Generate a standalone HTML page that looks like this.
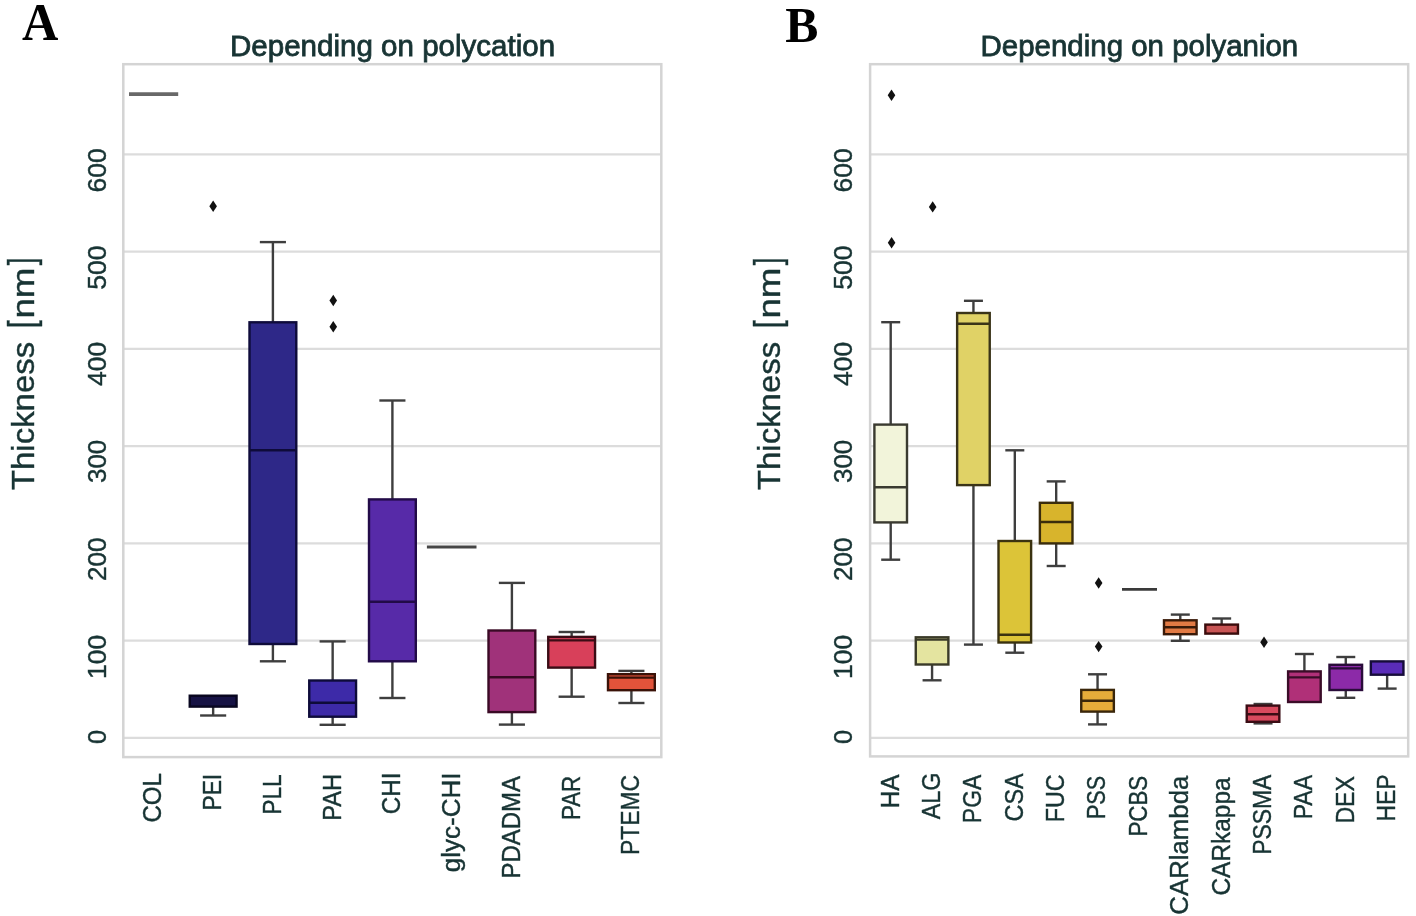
<!DOCTYPE html>
<html><head><meta charset="utf-8"><style>
html,body{margin:0;padding:0;background:#fff;}
svg{display:block;}
#w{will-change:transform;width:1416px;height:916px;}
</style></head><body>
<div id="w"><svg width="1416" height="916" viewBox="0 0 1416 916">
<rect width="1416" height="916" fill="#fff"/>
<line x1="123.3" y1="737.80" x2="661.3" y2="737.80" stroke="#dcdcdc" stroke-width="2.2"/>
<line x1="123.3" y1="640.55" x2="661.3" y2="640.55" stroke="#dcdcdc" stroke-width="2.2"/>
<line x1="123.3" y1="543.30" x2="661.3" y2="543.30" stroke="#dcdcdc" stroke-width="2.2"/>
<line x1="123.3" y1="446.05" x2="661.3" y2="446.05" stroke="#dcdcdc" stroke-width="2.2"/>
<line x1="123.3" y1="348.80" x2="661.3" y2="348.80" stroke="#dcdcdc" stroke-width="2.2"/>
<line x1="123.3" y1="251.55" x2="661.3" y2="251.55" stroke="#dcdcdc" stroke-width="2.2"/>
<line x1="123.3" y1="154.30" x2="661.3" y2="154.30" stroke="#dcdcdc" stroke-width="2.2"/>
<rect x="123.3" y="64.2" width="538.0" height="692.9" fill="none" stroke="#d4d4d4" stroke-width="2.5"/>
<line x1="129.00" y1="94.10" x2="178.20" y2="94.10" stroke="#686868" stroke-width="3.6"/>
<line x1="213.15" y1="706.60" x2="213.15" y2="715.50" stroke="#3e3e3e" stroke-width="2.4"/>
<line x1="200.10" y1="715.50" x2="226.20" y2="715.50" stroke="#3e3e3e" stroke-width="2.4"/>
<rect x="189.75" y="695.70" width="46.80" height="10.90" fill="#161244" stroke="#08061f" stroke-width="2.4"/>
<path d="M213.15,200.60L216.95,206.30L213.15,212.00L209.35,206.30Z" fill="#111"/>
<line x1="272.90" y1="322.30" x2="272.90" y2="242.10" stroke="#3e3e3e" stroke-width="2.4"/>
<line x1="259.85" y1="242.10" x2="285.95" y2="242.10" stroke="#3e3e3e" stroke-width="2.4"/>
<line x1="272.90" y1="644.00" x2="272.90" y2="661.30" stroke="#3e3e3e" stroke-width="2.4"/>
<line x1="259.85" y1="661.30" x2="285.95" y2="661.30" stroke="#3e3e3e" stroke-width="2.4"/>
<rect x="249.50" y="322.30" width="46.80" height="321.70" fill="#2e2888" stroke="#0e0b3a" stroke-width="2.4"/>
<line x1="249.50" y1="450.30" x2="296.30" y2="450.30" stroke="#0e0b3a" stroke-width="2.4"/>
<line x1="332.65" y1="680.50" x2="332.65" y2="641.40" stroke="#3e3e3e" stroke-width="2.4"/>
<line x1="319.60" y1="641.40" x2="345.70" y2="641.40" stroke="#3e3e3e" stroke-width="2.4"/>
<line x1="332.65" y1="716.70" x2="332.65" y2="724.80" stroke="#3e3e3e" stroke-width="2.4"/>
<line x1="319.60" y1="724.80" x2="345.70" y2="724.80" stroke="#3e3e3e" stroke-width="2.4"/>
<rect x="309.25" y="680.50" width="46.80" height="36.20" fill="#3d2aa8" stroke="#0e0b3a" stroke-width="2.4"/>
<line x1="309.25" y1="702.80" x2="356.05" y2="702.80" stroke="#0e0b3a" stroke-width="2.4"/>
<path d="M333.25,294.80L337.05,300.50L333.25,306.20L329.45,300.50Z" fill="#111"/>
<path d="M333.25,321.00L337.05,326.70L333.25,332.40L329.45,326.70Z" fill="#111"/>
<line x1="392.40" y1="499.40" x2="392.40" y2="400.50" stroke="#3e3e3e" stroke-width="2.4"/>
<line x1="379.35" y1="400.50" x2="405.45" y2="400.50" stroke="#3e3e3e" stroke-width="2.4"/>
<line x1="392.40" y1="661.30" x2="392.40" y2="698.00" stroke="#3e3e3e" stroke-width="2.4"/>
<line x1="379.35" y1="698.00" x2="405.45" y2="698.00" stroke="#3e3e3e" stroke-width="2.4"/>
<rect x="369.00" y="499.40" width="46.80" height="161.90" fill="#572aa8" stroke="#220b48" stroke-width="2.4"/>
<line x1="369.00" y1="601.80" x2="415.80" y2="601.80" stroke="#220b48" stroke-width="2.4"/>
<line x1="426.90" y1="546.90" x2="476.50" y2="546.90" stroke="#464646" stroke-width="3.0"/>
<line x1="511.90" y1="630.50" x2="511.90" y2="582.90" stroke="#3e3e3e" stroke-width="2.4"/>
<line x1="498.85" y1="582.90" x2="524.95" y2="582.90" stroke="#3e3e3e" stroke-width="2.4"/>
<line x1="511.90" y1="712.10" x2="511.90" y2="724.60" stroke="#3e3e3e" stroke-width="2.4"/>
<line x1="498.85" y1="724.60" x2="524.95" y2="724.60" stroke="#3e3e3e" stroke-width="2.4"/>
<rect x="488.50" y="630.50" width="46.80" height="81.60" fill="#a0327a" stroke="#3a0a25" stroke-width="2.4"/>
<line x1="488.50" y1="677.30" x2="535.30" y2="677.30" stroke="#3a0a25" stroke-width="2.4"/>
<line x1="571.65" y1="636.90" x2="571.65" y2="632.00" stroke="#3e3e3e" stroke-width="2.4"/>
<line x1="558.60" y1="632.00" x2="584.70" y2="632.00" stroke="#3e3e3e" stroke-width="2.4"/>
<line x1="571.65" y1="667.60" x2="571.65" y2="696.70" stroke="#3e3e3e" stroke-width="2.4"/>
<line x1="558.60" y1="696.70" x2="584.70" y2="696.70" stroke="#3e3e3e" stroke-width="2.4"/>
<rect x="548.25" y="636.90" width="46.80" height="30.70" fill="#d8405a" stroke="#3a0c15" stroke-width="2.4"/>
<line x1="548.25" y1="640.40" x2="595.05" y2="640.40" stroke="#3a0c15" stroke-width="2.4"/>
<line x1="631.40" y1="674.20" x2="631.40" y2="670.90" stroke="#3e3e3e" stroke-width="2.4"/>
<line x1="618.35" y1="670.90" x2="644.45" y2="670.90" stroke="#3e3e3e" stroke-width="2.4"/>
<line x1="631.40" y1="690.20" x2="631.40" y2="703.00" stroke="#3e3e3e" stroke-width="2.4"/>
<line x1="618.35" y1="703.00" x2="644.45" y2="703.00" stroke="#3e3e3e" stroke-width="2.4"/>
<rect x="608.00" y="674.20" width="46.80" height="16.00" fill="#e2533a" stroke="#3a1208" stroke-width="2.4"/>
<line x1="608.00" y1="677.60" x2="654.80" y2="677.60" stroke="#3a1208" stroke-width="2.4"/>
<line x1="870.1" y1="737.80" x2="1408.2" y2="737.80" stroke="#dcdcdc" stroke-width="2.2"/>
<line x1="870.1" y1="640.55" x2="1408.2" y2="640.55" stroke="#dcdcdc" stroke-width="2.2"/>
<line x1="870.1" y1="543.30" x2="1408.2" y2="543.30" stroke="#dcdcdc" stroke-width="2.2"/>
<line x1="870.1" y1="446.05" x2="1408.2" y2="446.05" stroke="#dcdcdc" stroke-width="2.2"/>
<line x1="870.1" y1="348.80" x2="1408.2" y2="348.80" stroke="#dcdcdc" stroke-width="2.2"/>
<line x1="870.1" y1="251.55" x2="1408.2" y2="251.55" stroke="#dcdcdc" stroke-width="2.2"/>
<line x1="870.1" y1="154.30" x2="1408.2" y2="154.30" stroke="#dcdcdc" stroke-width="2.2"/>
<rect x="870.1" y="64.2" width="538.1" height="692.1999999999999" fill="none" stroke="#d4d4d4" stroke-width="2.5"/>
<line x1="890.70" y1="424.60" x2="890.70" y2="322.20" stroke="#3e3e3e" stroke-width="2.4"/>
<line x1="881.20" y1="322.20" x2="900.20" y2="322.20" stroke="#3e3e3e" stroke-width="2.4"/>
<line x1="890.70" y1="522.40" x2="890.70" y2="559.70" stroke="#3e3e3e" stroke-width="2.4"/>
<line x1="881.20" y1="559.70" x2="900.20" y2="559.70" stroke="#3e3e3e" stroke-width="2.4"/>
<rect x="874.40" y="424.60" width="32.60" height="97.80" fill="#f2f4da" stroke="#3a3a30" stroke-width="2.4"/>
<line x1="874.40" y1="487.30" x2="907.00" y2="487.30" stroke="#3a3a30" stroke-width="2.4"/>
<path d="M891.50,89.60L895.30,95.30L891.50,101.00L887.70,95.30Z" fill="#111"/>
<path d="M891.60,237.00L895.40,242.70L891.60,248.40L887.80,242.70Z" fill="#111"/>
<line x1="932.07" y1="664.50" x2="932.07" y2="680.30" stroke="#3e3e3e" stroke-width="2.4"/>
<line x1="922.57" y1="680.30" x2="941.57" y2="680.30" stroke="#3e3e3e" stroke-width="2.4"/>
<rect x="915.77" y="637.30" width="32.60" height="27.20" fill="#e4e4a0" stroke="#3a3a28" stroke-width="2.4"/>
<line x1="915.77" y1="639.60" x2="948.37" y2="639.60" stroke="#3a3a28" stroke-width="2.4"/>
<path d="M932.67,201.20L936.47,206.90L932.67,212.60L928.87,206.90Z" fill="#111"/>
<line x1="973.44" y1="313.00" x2="973.44" y2="300.80" stroke="#3e3e3e" stroke-width="2.4"/>
<line x1="963.94" y1="300.80" x2="982.94" y2="300.80" stroke="#3e3e3e" stroke-width="2.4"/>
<line x1="973.44" y1="485.10" x2="973.44" y2="644.60" stroke="#3e3e3e" stroke-width="2.4"/>
<line x1="963.94" y1="644.60" x2="982.94" y2="644.60" stroke="#3e3e3e" stroke-width="2.4"/>
<rect x="957.14" y="313.00" width="32.60" height="172.10" fill="#e0d266" stroke="#3a3418" stroke-width="2.4"/>
<line x1="957.14" y1="323.70" x2="989.74" y2="323.70" stroke="#3a3418" stroke-width="2.4"/>
<line x1="1014.81" y1="541.00" x2="1014.81" y2="450.30" stroke="#3e3e3e" stroke-width="2.4"/>
<line x1="1005.31" y1="450.30" x2="1024.31" y2="450.30" stroke="#3e3e3e" stroke-width="2.4"/>
<line x1="1014.81" y1="642.50" x2="1014.81" y2="652.70" stroke="#3e3e3e" stroke-width="2.4"/>
<line x1="1005.31" y1="652.70" x2="1024.31" y2="652.70" stroke="#3e3e3e" stroke-width="2.4"/>
<rect x="998.51" y="541.00" width="32.60" height="101.50" fill="#dcc438" stroke="#3a3210" stroke-width="2.4"/>
<line x1="998.51" y1="634.70" x2="1031.11" y2="634.70" stroke="#3a3210" stroke-width="2.4"/>
<line x1="1056.18" y1="502.80" x2="1056.18" y2="481.40" stroke="#3e3e3e" stroke-width="2.4"/>
<line x1="1046.68" y1="481.40" x2="1065.68" y2="481.40" stroke="#3e3e3e" stroke-width="2.4"/>
<line x1="1056.18" y1="543.40" x2="1056.18" y2="566.00" stroke="#3e3e3e" stroke-width="2.4"/>
<line x1="1046.68" y1="566.00" x2="1065.68" y2="566.00" stroke="#3e3e3e" stroke-width="2.4"/>
<rect x="1039.88" y="502.80" width="32.60" height="40.60" fill="#d8b42c" stroke="#3a2c0c" stroke-width="2.4"/>
<line x1="1039.88" y1="522.00" x2="1072.48" y2="522.00" stroke="#3a2c0c" stroke-width="2.4"/>
<line x1="1097.55" y1="689.90" x2="1097.55" y2="674.30" stroke="#3e3e3e" stroke-width="2.4"/>
<line x1="1088.05" y1="674.30" x2="1107.05" y2="674.30" stroke="#3e3e3e" stroke-width="2.4"/>
<line x1="1097.55" y1="711.60" x2="1097.55" y2="724.40" stroke="#3e3e3e" stroke-width="2.4"/>
<line x1="1088.05" y1="724.40" x2="1107.05" y2="724.40" stroke="#3e3e3e" stroke-width="2.4"/>
<rect x="1081.25" y="689.90" width="32.60" height="21.70" fill="#e6ac3a" stroke="#3a260a" stroke-width="2.4"/>
<line x1="1081.25" y1="700.70" x2="1113.85" y2="700.70" stroke="#3a260a" stroke-width="2.4"/>
<path d="M1098.65,577.30L1102.45,583.00L1098.65,588.70L1094.85,583.00Z" fill="#111"/>
<path d="M1098.65,640.90L1102.45,646.60L1098.65,652.30L1094.85,646.60Z" fill="#111"/>
<line x1="1122.00" y1="589.40" x2="1157.00" y2="589.40" stroke="#3a3a3a" stroke-width="2.8"/>
<line x1="1180.29" y1="620.30" x2="1180.29" y2="614.60" stroke="#3e3e3e" stroke-width="2.4"/>
<line x1="1170.79" y1="614.60" x2="1189.79" y2="614.60" stroke="#3e3e3e" stroke-width="2.4"/>
<line x1="1180.29" y1="634.20" x2="1180.29" y2="640.80" stroke="#3e3e3e" stroke-width="2.4"/>
<line x1="1170.79" y1="640.80" x2="1189.79" y2="640.80" stroke="#3e3e3e" stroke-width="2.4"/>
<rect x="1163.99" y="620.30" width="32.60" height="13.90" fill="#e27a44" stroke="#3a1a08" stroke-width="2.4"/>
<line x1="1163.99" y1="627.30" x2="1196.59" y2="627.30" stroke="#3a1a08" stroke-width="2.4"/>
<line x1="1221.66" y1="624.60" x2="1221.66" y2="618.50" stroke="#3e3e3e" stroke-width="2.4"/>
<line x1="1212.16" y1="618.50" x2="1231.16" y2="618.50" stroke="#3e3e3e" stroke-width="2.4"/>
<rect x="1205.36" y="624.60" width="32.60" height="9.00" fill="#c85454" stroke="#3a0c0c" stroke-width="2.4"/>
<line x1="1263.03" y1="705.60" x2="1263.03" y2="704.00" stroke="#3e3e3e" stroke-width="2.4"/>
<line x1="1253.53" y1="704.00" x2="1272.53" y2="704.00" stroke="#3e3e3e" stroke-width="2.4"/>
<line x1="1263.03" y1="721.80" x2="1263.03" y2="723.40" stroke="#3e3e3e" stroke-width="2.4"/>
<line x1="1253.53" y1="723.40" x2="1272.53" y2="723.40" stroke="#3e3e3e" stroke-width="2.4"/>
<rect x="1246.73" y="705.60" width="32.60" height="16.20" fill="#d84a5e" stroke="#3a0c14" stroke-width="2.4"/>
<line x1="1246.73" y1="714.20" x2="1279.33" y2="714.20" stroke="#3a0c14" stroke-width="2.4"/>
<path d="M1264.03,636.50L1267.83,642.20L1264.03,647.90L1260.23,642.20Z" fill="#111"/>
<line x1="1304.40" y1="671.40" x2="1304.40" y2="654.00" stroke="#3e3e3e" stroke-width="2.4"/>
<line x1="1294.90" y1="654.00" x2="1313.90" y2="654.00" stroke="#3e3e3e" stroke-width="2.4"/>
<rect x="1288.10" y="671.40" width="32.60" height="30.60" fill="#b03078" stroke="#3a0c28" stroke-width="2.4"/>
<line x1="1288.10" y1="677.40" x2="1320.70" y2="677.40" stroke="#3a0c28" stroke-width="2.4"/>
<line x1="1345.77" y1="664.80" x2="1345.77" y2="657.00" stroke="#3e3e3e" stroke-width="2.4"/>
<line x1="1336.27" y1="657.00" x2="1355.27" y2="657.00" stroke="#3e3e3e" stroke-width="2.4"/>
<line x1="1345.77" y1="690.00" x2="1345.77" y2="697.80" stroke="#3e3e3e" stroke-width="2.4"/>
<line x1="1336.27" y1="697.80" x2="1355.27" y2="697.80" stroke="#3e3e3e" stroke-width="2.4"/>
<rect x="1329.47" y="664.80" width="32.60" height="25.20" fill="#8c2aa8" stroke="#2a0c3a" stroke-width="2.4"/>
<line x1="1329.47" y1="668.40" x2="1362.07" y2="668.40" stroke="#2a0c3a" stroke-width="2.4"/>
<line x1="1387.14" y1="674.70" x2="1387.14" y2="688.60" stroke="#3e3e3e" stroke-width="2.4"/>
<line x1="1377.64" y1="688.60" x2="1396.64" y2="688.60" stroke="#3e3e3e" stroke-width="2.4"/>
<rect x="1370.84" y="661.40" width="32.60" height="13.30" fill="#5a2cb8" stroke="#160c3a" stroke-width="2.4"/>
<text transform="translate(21.90,39.60) scale(0.9578,1)" font-family="Liberation Serif" font-weight="bold" font-size="52.5" fill="#000">A</text>
<text transform="translate(785.21,41.60) scale(0.9646,1)" font-family="Liberation Serif" font-weight="bold" font-size="51.5" fill="#000">B</text>
<text transform="translate(229.94,55.60) scale(1.0192,1)" font-family="Liberation Sans" font-weight="normal" font-size="29" fill="#183434" stroke="#183434" stroke-width="0.8">Depending on polycation</text>
<text transform="translate(980.54,55.60) scale(1.0163,1)" font-family="Liberation Sans" font-weight="normal" font-size="29" fill="#183434" stroke="#183434" stroke-width="0.8">Depending on polyanion</text>
<text transform="translate(33.60,490.06) rotate(-90) scale(1.0458,1)" font-family="Liberation Sans" font-size="31.5" fill="#183434" stroke="#183434" stroke-width="0.4">Thickness</text>
<text transform="translate(33.90,265.28) rotate(-90) scale(0.7713,1)" font-family="Liberation Sans" font-size="36.3" fill="#183434" stroke="#183434" stroke-width="0.4">]</text>
<text transform="translate(33.60,318.57) rotate(-90) scale(1.1657,1)" font-family="Liberation Sans" font-size="31.5" fill="#183434" stroke="#183434" stroke-width="0.4">nm</text>
<text transform="translate(33.90,328.23) rotate(-90) scale(0.7989,1)" font-family="Liberation Sans" font-size="36.3" fill="#183434" stroke="#183434" stroke-width="0.4">[</text>
<text transform="translate(779.90,490.06) rotate(-90) scale(1.0458,1)" font-family="Liberation Sans" font-size="31.5" fill="#183434" stroke="#183434" stroke-width="0.4">Thickness</text>
<text transform="translate(780.20,265.28) rotate(-90) scale(0.7713,1)" font-family="Liberation Sans" font-size="36.3" fill="#183434" stroke="#183434" stroke-width="0.4">]</text>
<text transform="translate(779.90,318.57) rotate(-90) scale(1.1657,1)" font-family="Liberation Sans" font-size="31.5" fill="#183434" stroke="#183434" stroke-width="0.4">nm</text>
<text transform="translate(780.20,328.23) rotate(-90) scale(0.7989,1)" font-family="Liberation Sans" font-size="36.3" fill="#183434" stroke="#183434" stroke-width="0.4">[</text>
<text transform="translate(106.20,192.43) rotate(-90) scale(1.0224,1)" font-family="Liberation Sans" font-size="26" fill="#183434" stroke="#183434" stroke-width="0.4">600</text>
<text transform="translate(851.70,192.43) rotate(-90) scale(1.0224,1)" font-family="Liberation Sans" font-size="26" fill="#183434" stroke="#183434" stroke-width="0.4">600</text>
<text transform="translate(106.20,289.86) rotate(-90) scale(1.0232,1)" font-family="Liberation Sans" font-size="26" fill="#183434" stroke="#183434" stroke-width="0.4">500</text>
<text transform="translate(851.70,289.86) rotate(-90) scale(1.0232,1)" font-family="Liberation Sans" font-size="26" fill="#183434" stroke="#183434" stroke-width="0.4">500</text>
<text transform="translate(106.20,385.93) rotate(-90) scale(1.0177,1)" font-family="Liberation Sans" font-size="26" fill="#183434" stroke="#183434" stroke-width="0.4">400</text>
<text transform="translate(851.70,385.93) rotate(-90) scale(1.0177,1)" font-family="Liberation Sans" font-size="26" fill="#183434" stroke="#183434" stroke-width="0.4">400</text>
<text transform="translate(106.20,482.94) rotate(-90) scale(0.9966,1)" font-family="Liberation Sans" font-size="26" fill="#183434" stroke="#183434" stroke-width="0.4">300</text>
<text transform="translate(851.70,482.94) rotate(-90) scale(0.9966,1)" font-family="Liberation Sans" font-size="26" fill="#183434" stroke="#183434" stroke-width="0.4">300</text>
<text transform="translate(106.20,581.10) rotate(-90) scale(1.0029,1)" font-family="Liberation Sans" font-size="26" fill="#183434" stroke="#183434" stroke-width="0.4">200</text>
<text transform="translate(851.70,581.10) rotate(-90) scale(1.0029,1)" font-family="Liberation Sans" font-size="26" fill="#183434" stroke="#183434" stroke-width="0.4">200</text>
<text transform="translate(106.20,678.92) rotate(-90) scale(1.0199,1)" font-family="Liberation Sans" font-size="26" fill="#183434" stroke="#183434" stroke-width="0.4">100</text>
<text transform="translate(851.70,678.92) rotate(-90) scale(1.0199,1)" font-family="Liberation Sans" font-size="26" fill="#183434" stroke="#183434" stroke-width="0.4">100</text>
<text transform="translate(106.20,744.12) rotate(-90) scale(0.9776,1)" font-family="Liberation Sans" font-size="26" fill="#183434" stroke="#183434" stroke-width="0.4">0</text>
<text transform="translate(851.70,744.12) rotate(-90) scale(0.9776,1)" font-family="Liberation Sans" font-size="26" fill="#183434" stroke="#183434" stroke-width="0.4">0</text>
<text transform="translate(161.30,822.61) rotate(-90) scale(0.9550,1)" font-family="Liberation Sans" font-size="25.3" fill="#183434" stroke="#183434" stroke-width="0.4">COL</text>
<text transform="translate(221.05,810.52) rotate(-90) scale(0.9003,1)" font-family="Liberation Sans" font-size="25.3" fill="#183434" stroke="#183434" stroke-width="0.4">PEI</text>
<text transform="translate(280.80,814.83) rotate(-90) scale(0.9018,1)" font-family="Liberation Sans" font-size="25.3" fill="#183434" stroke="#183434" stroke-width="0.4">PLL</text>
<text transform="translate(340.55,820.79) rotate(-90) scale(0.9338,1)" font-family="Liberation Sans" font-size="25.3" fill="#183434" stroke="#183434" stroke-width="0.4">PAH</text>
<text transform="translate(400.30,814.21) rotate(-90) scale(0.9556,1)" font-family="Liberation Sans" font-size="25.3" fill="#183434" stroke="#183434" stroke-width="0.4">CHI</text>
<text transform="translate(460.05,872.24) rotate(-90) scale(1.0298,1)" font-family="Liberation Sans" font-size="25.3" fill="#183434" stroke="#183434" stroke-width="0.4">glyc-CHI</text>
<text transform="translate(519.80,878.42) rotate(-90) scale(0.9467,1)" font-family="Liberation Sans" font-size="25.3" fill="#183434" stroke="#183434" stroke-width="0.4">PDADMA</text>
<text transform="translate(579.55,820.09) rotate(-90) scale(0.8824,1)" font-family="Liberation Sans" font-size="25.3" fill="#183434" stroke="#183434" stroke-width="0.4">PAR</text>
<text transform="translate(639.30,855.03) rotate(-90) scale(0.9039,1)" font-family="Liberation Sans" font-size="25.3" fill="#183434" stroke="#183434" stroke-width="0.4">PTEMC</text>
<text transform="translate(898.60,808.34) rotate(-90) scale(0.9595,1)" font-family="Liberation Sans" font-size="25.3" fill="#183434" stroke="#183434" stroke-width="0.4">HA</text>
<text transform="translate(939.97,819.30) rotate(-90) scale(0.9236,1)" font-family="Liberation Sans" font-size="25.3" fill="#183434" stroke="#183434" stroke-width="0.4">ALG</text>
<text transform="translate(981.34,823.13) rotate(-90) scale(0.9054,1)" font-family="Liberation Sans" font-size="25.3" fill="#183434" stroke="#183434" stroke-width="0.4">PGA</text>
<text transform="translate(1022.71,821.47) rotate(-90) scale(0.9269,1)" font-family="Liberation Sans" font-size="25.3" fill="#183434" stroke="#183434" stroke-width="0.4">CSA</text>
<text transform="translate(1064.08,822.16) rotate(-90) scale(0.9195,1)" font-family="Liberation Sans" font-size="25.3" fill="#183434" stroke="#183434" stroke-width="0.4">FUC</text>
<text transform="translate(1105.45,819.02) rotate(-90) scale(0.8515,1)" font-family="Liberation Sans" font-size="25.3" fill="#183434" stroke="#183434" stroke-width="0.4">PSS</text>
<text transform="translate(1146.82,836.59) rotate(-90) scale(0.8832,1)" font-family="Liberation Sans" font-size="25.3" fill="#183434" stroke="#183434" stroke-width="0.4">PCBS</text>
<text transform="translate(1188.19,914.69) rotate(-90) scale(1.0200,1)" font-family="Liberation Sans" font-size="25.3" fill="#183434" stroke="#183434" stroke-width="0.4">CARlambda</text>
<text transform="translate(1229.56,895.52) rotate(-90) scale(0.9663,1)" font-family="Liberation Sans" font-size="25.3" fill="#183434" stroke="#183434" stroke-width="0.4">CARkappa</text>
<text transform="translate(1270.93,854.83) rotate(-90) scale(0.9061,1)" font-family="Liberation Sans" font-size="25.3" fill="#183434" stroke="#183434" stroke-width="0.4">PSSMA</text>
<text transform="translate(1312.30,819.35) rotate(-90) scale(0.9130,1)" font-family="Liberation Sans" font-size="25.3" fill="#183434" stroke="#183434" stroke-width="0.4">PAA</text>
<text transform="translate(1353.67,823.55) rotate(-90) scale(0.9121,1)" font-family="Liberation Sans" font-size="25.3" fill="#183434" stroke="#183434" stroke-width="0.4">DEX</text>
<text transform="translate(1395.04,821.43) rotate(-90) scale(0.9037,1)" font-family="Liberation Sans" font-size="25.3" fill="#183434" stroke="#183434" stroke-width="0.4">HEP</text>
</svg></div>
</body></html>
